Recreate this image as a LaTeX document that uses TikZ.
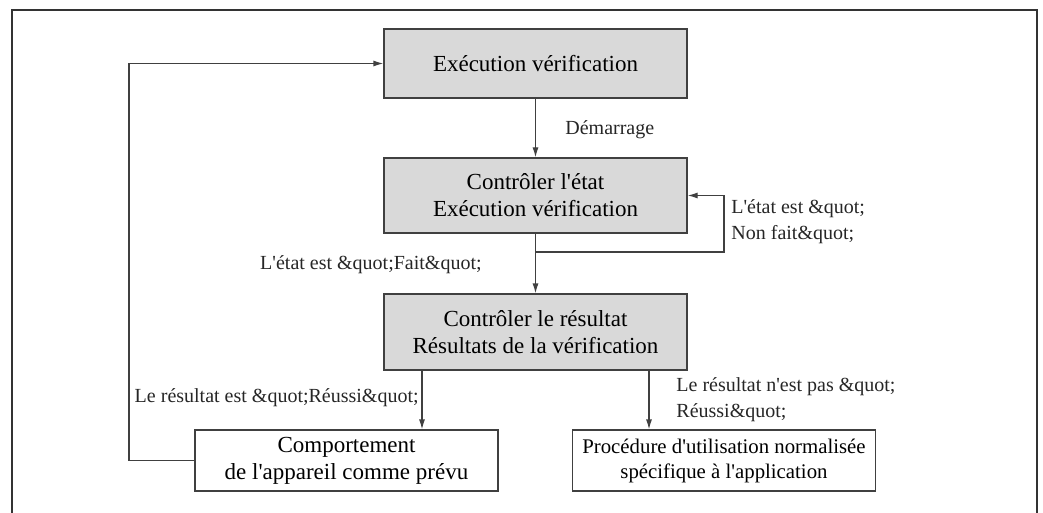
\documentclass[tikz,border=0pt]{standalone}
\usepackage{fontspec}
\setmainfont{Liberation Serif}
\usetikzlibrary{arrows.meta}
\definecolor{linegray}{HTML}{404040}
\definecolor{boxgray}{HTML}{D9D9D9}
\newcommand{\ap}{\textquotesingle}
\tikzset{
  stepbox/.style={draw=linegray, line width=0.6pt, fill=boxgray, minimum width=151.5pt,
    align=center, inner sep=0pt, font=\fontsize{11.5}{13.5}\selectfont},
  endbox/.style={draw=linegray, line width=0.6pt, fill=white, minimum width=151.5pt,
    minimum height=30.5pt, align=center, inner sep=0pt},
  lbl/.style={align=left, inner sep=0pt, text=black!85, font=\fontsize{10}{13}\selectfont},
  arr/.style={draw=linegray, line width=0.6pt, -{Latex[length=5pt,width=3pt]}}
}
\begin{document}
\begin{tikzpicture}[x=0.5pt,y=-0.5pt]
\useasboundingbox (0,0) rectangle (1043,513);
% frame
\draw[line width=1pt, black!80] (12,513) -- (12,10) -- (1037,10) -- (1037,513);
% boxes
\node[stepbox, minimum height=34.5pt] (exec) at (535.5,63.5) {Exécution vérification};
\node[stepbox, minimum height=37.5pt] (etat) at (535.5,195.5) {Contrôler l\ap état\\Exécution vérification};
\node[stepbox, minimum height=38pt] (res) at (535.5,332) {Contrôler le résultat\\Résultats de la vérification};
\node[endbox, font=\fontsize{11.5}{13.5}\selectfont] (comp) at (346.5,460.5) {Comportement\\de l\ap appareil comme prévu};
\node[endbox, font=\fontsize{10.4}{12.5}\selectfont] (proc) at (724,460.5) {Procédure d\ap utilisation normalisée\\spécifique à l\ap application};
% labels
\node[lbl, anchor=west] (ldem) at (565,130) {Démarrage};
\node[lbl, anchor=west] (lnon) at (731,222) {L\ap état est \&quot;\\Non fait\&quot;};
\node[lbl, anchor=east] (lfait) at (482,265) {L\ap état est \&quot;Fait\&quot;};
\node[lbl, anchor=east] (lok) at (419,398) {Le résultat est \&quot;Réussi\&quot;};
\node[lbl, anchor=west] (lko) at (676,400) {Le résultat n\ap est pas \&quot;\\Réussi\&quot;};
% connectors
\coordinate (nf) at (724,195.5);
\coordinate (ret) at (129,63.5);
\draw[arr] (exec) -- (etat);
\draw[arr] (etat) -- (res);
\draw[arr] (etat.south |- 0,252) -| (nf) -- (etat.east);
\draw[arr] (res.south -| 422,0) -- (comp.north -| 422,0);
\draw[arr] (res.south -| 649,0) -- (proc.north -| 649,0);
\draw[arr] (comp.west) -| (ret) -- (exec.west);
\end{tikzpicture}
\end{document}
